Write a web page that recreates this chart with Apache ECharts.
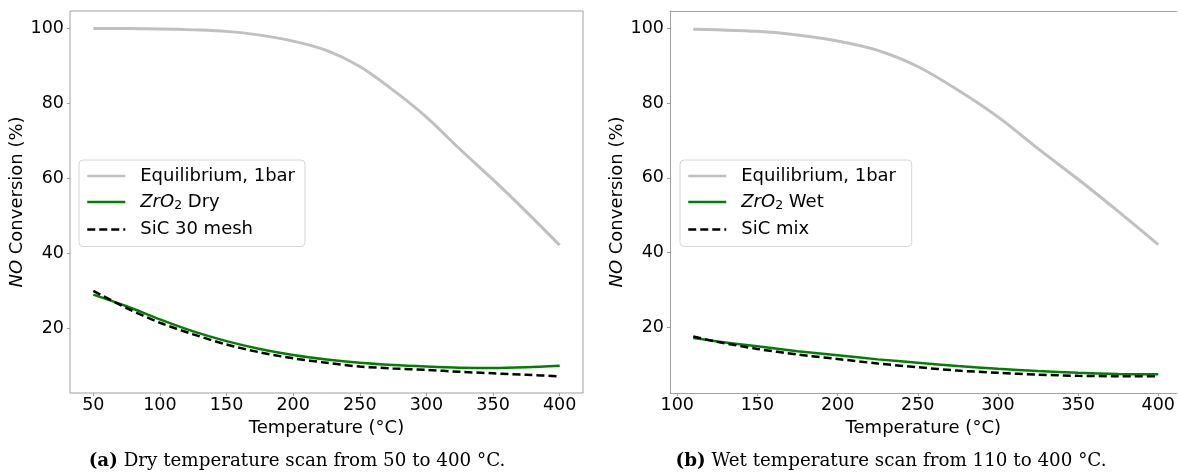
<!DOCTYPE html>
<html>
<head>
<meta charset="utf-8">
<script src="https://cdn.jsdelivr.net/npm/echarts@6/dist/echarts.min.js"></script>
<style>
  html, body { margin: 0; padding: 0; background: #fff; overflow: hidden; }
  #chart { width: 1178px; height: 472px; }
</style>
</head>
<body>
<div id="chart"></div>
<script>
// dry scan (a)
const tempDry = [50, 75, 100, 125, 150, 175, 200, 225, 250, 275, 300, 325, 350, 375, 400];
const eqDry = [100.0, 99.95, 99.85, 99.6, 99.2, 98.2, 96.6, 94.1, 89.8, 83.5, 76.3, 67.8, 59.6, 51.0, 42.1];
const zrDry = [28.9, 25.8, 22.3, 19.1, 16.5, 14.4, 12.8, 11.6, 10.7, 10.1, 9.7, 9.4, 9.3, 9.5, 9.9];
const sicDry = [29.9, 25.3, 21.4, 18.3, 15.6, 13.5, 11.9, 10.7, 9.7, 9.2, 8.8, 8.3, 7.9, 7.5, 7.1];

// wet scan (b)
const tempWet = [110, 125, 150, 175, 200, 225, 250, 275, 300, 325, 350, 375, 400];
const eqWet = [99.75, 99.6, 99.2, 98.2, 96.6, 94.1, 89.8, 83.5, 76.3, 67.8, 59.6, 51.0, 42.1];
const zrWet = [17.1, 16.2, 14.9, 13.6, 12.5, 11.4, 10.5, 9.6, 8.9, 8.3, 7.8, 7.5, 7.4];
const sicWet = [17.5, 16.1, 14.2, 12.7, 11.5, 10.3, 9.3, 8.4, 7.8, 7.3, 7.0, 6.9, 6.9];

const xTicksDry = [50, 100, 150, 200, 250, 300, 350, 400];
const xTicksWet = [100, 150, 200, 250, 300, 350, 400];
const yTicks = [20, 40, 60, 80, 100];

const sans = 'DejaVu Sans';
const serif = 'DejaVu Serif';
const spine = '#a0a0a0';

const pairs = (xs, ys) => xs.map((x, i) => [x, ys[i]]);

const xAxis = (gi, min, max, ticks, showLine) => ({
  type: 'value',
  gridIndex: gi,
  min: min,
  max: max,
  name: 'Temperature (°C)',
  nameLocation: 'middle',
  nameGap: 18,
  nameTextStyle: { fontFamily: sans, fontSize: 18, color: '#000' },
  axisLine: { show: showLine, lineStyle: { color: spine, width: 1 } },
  axisTick: { show: true, length: 3, customValues: ticks, lineStyle: { color: spine } },
  axisLabel: { customValues: ticks, margin: 3, fontFamily: sans, fontSize: 17.5, color: '#000' },
  splitLine: { show: false }
});

// top spine only, for the clipped right panel
const topSpine = (gi, min, max) => ({
  type: 'value',
  gridIndex: gi,
  position: 'top',
  min: min,
  max: max,
  axisLine: { show: true, lineStyle: { color: spine, width: 1 } },
  axisTick: { show: false },
  axisLabel: { show: false },
  splitLine: { show: false }
});

const yAxis = (gi, min, max, showLine) => ({
  type: 'value',
  gridIndex: gi,
  min: min,
  max: max,
  name: '{i|NO} Conversion (%)',
  nameLocation: 'middle',
  nameGap: 38,
  nameTextStyle: {
    fontFamily: sans, fontSize: 18, color: '#000',
    rich: { i: { fontFamily: sans, fontSize: 18, fontStyle: 'italic', color: '#000' } }
  },
  axisLine: { show: showLine, lineStyle: { color: spine, width: 1 } },
  axisTick: { show: true, length: 3, customValues: yTicks, lineStyle: { color: spine } },
  axisLabel: { customValues: yTicks, margin: 6, fontFamily: sans, fontSize: 17.5, color: '#000' },
  splitLine: { show: false }
});

const legend = (left, names) => ({
  orient: 'vertical',
  left: left,
  top: 160,
  data: names,
  itemWidth: 38,
  itemHeight: 14,
  itemGap: 8,
  padding: [7, 10, 8, 7],
  borderColor: '#d6d6d6',
  borderWidth: 1,
  borderRadius: 4,
  backgroundColor: 'rgba(255,255,255,0.8)',
  lineStyle: { width: 2.5 },
  itemStyle: { opacity: 0 },
  formatter: name => name.startsWith('ZrO2') ? '{i|ZrO}{s|2}' + name.slice(4) : name,
  textStyle: {
    fontFamily: sans, fontSize: 18, color: '#000', padding: [0, 0, 0, 10],
    rich: {
      i: { fontFamily: sans, fontSize: 18, fontStyle: 'italic', color: '#000' },
      s: { fontFamily: sans, fontSize: 12.5, color: '#000', padding: [8, 0, 0, 0] }
    }
  }
});

const line = (name, gi, data, color, width, type) => ({
  name: name,
  type: 'line',
  xAxisIndex: gi,
  yAxisIndex: gi,
  data: data,
  symbol: 'none',
  smooth: 0.3,
  lineStyle: { color: color, width: width, type: type },
  itemStyle: { color: color },
  emphasis: { disabled: true }
});

const chart = echarts.init(document.getElementById('chart'), null, { renderer: 'canvas' });

chart.setOption({
  animation: false,
  backgroundColor: '#fff',
  grid: [
    { left: 70, top: 11, width: 513, height: 382, show: true, borderColor: spine, borderWidth: 1 },
    { left: 670, top: 11, width: 508, height: 382 }
  ],
  xAxis: [
    xAxis(0, 32.5, 417.5, xTicksDry, false),
    xAxis(1, 95.5, 411.4, xTicksWet, true),
    topSpine(1, 95.5, 411.4)
  ],
  yAxis: [yAxis(0, 2.64, 104.64, false), yAxis(1, 2.4, 104.65, true)],
  legend: [
    legend(79, ['Equilibrium, 1bar', 'ZrO2 Dry', 'SiC 30 mesh']),
    legend(680, ['Equilibrium, 1bar ', 'ZrO2 Wet', 'SiC mix'])
  ],
  series: [
    line('Equilibrium, 1bar', 0, pairs(tempDry, eqDry), '#c0c0c0', 3, 'solid'),
    line('ZrO2 Dry', 0, pairs(tempDry, zrDry), '#008000', 2.5, 'solid'),
    line('SiC 30 mesh', 0, pairs(tempDry, sicDry), '#000', 2.5, [8, 4]),
    line('Equilibrium, 1bar ', 1, pairs(tempWet, eqWet), '#c0c0c0', 3, 'solid'),
    line('ZrO2 Wet', 1, pairs(tempWet, zrWet), '#008000', 2.5, 'solid'),
    line('SiC mix', 1, pairs(tempWet, sicWet), '#000', 2.5, [8, 4])
  ],
  graphic: [
    {
      type: 'text', x: 297, y: 461,
      style: {
        text: '{b|(a)} Dry temperature scan from 50 to 400 °C.',
        fontFamily: serif, fontSize: 18.3, fill: '#000', align: 'center', verticalAlign: 'middle',
        rich: { b: { fontFamily: serif, fontSize: 18.3, fontWeight: 'bold', fill: '#000' } }
      }
    },
    {
      type: 'text', x: 891, y: 461,
      style: {
        text: '{b|(b)} Wet temperature scan from 110 to 400 °C.',
        fontFamily: serif, fontSize: 18.3, fill: '#000', align: 'center', verticalAlign: 'middle',
        rich: { b: { fontFamily: serif, fontSize: 18.3, fontWeight: 'bold', fill: '#000' } }
      }
    }
  ]
});
</script>
</body>
</html>
